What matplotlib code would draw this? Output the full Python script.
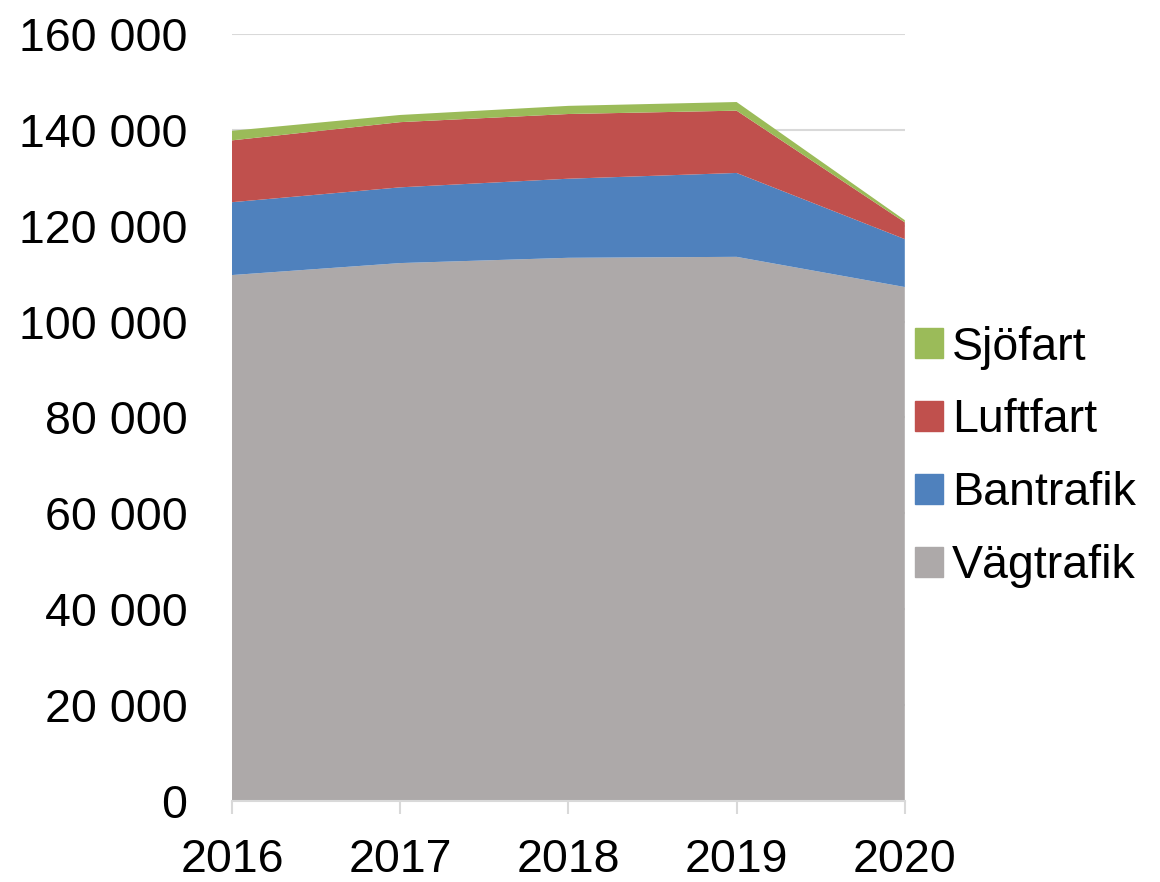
import matplotlib.pyplot as plt
from matplotlib.patches import Patch
from matplotlib.ticker import FuncFormatter

plt.rcParams['font.family'] = ['Liberation Sans', 'DejaVu Sans']

# Data
years = [2016, 2017, 2018, 2019, 2020]
vagtrafik = [109700, 112200, 113300, 113500, 107200]
bantrafik = [15200, 15800, 16500, 17500, 10000]
luftfart = [12900, 13600, 13500, 13000, 3500]
sjofart = [2000, 1500, 1700, 1800, 450]

labels = ['Vägtrafik', 'Bantrafik', 'Luftfart', 'Sjöfart']
colors = ['#ADA9A9', '#4F81BD', '#C0504D', '#9BBB59']

fig = plt.figure(figsize=(11.6, 8.82), dpi=100)
ax = fig.add_axes([0.2, 0.092, 0.58, 0.8695])

ax.stackplot(years, vagtrafik, bantrafik, luftfart, sjofart,
             colors=colors, labels=labels, linewidth=0, zorder=2)

ax.set_xlim(2016, 2020)
ax.set_ylim(0, 160000)
ax.set_xticks(years)
ax.set_yticks(range(0, 160001, 20000))
ax.yaxis.set_major_formatter(FuncFormatter(lambda v, p: f'{int(v):,}'.replace(',', ' ')))

ax.grid(axis='y', color='#D9D9D9', linewidth=1.5, zorder=0)
ax.set_axisbelow(True)
for s in ['top', 'right', 'left']:
    ax.spines[s].set_visible(False)
ax.spines['bottom'].set_color('#D9D9D9')
ax.spines['bottom'].set_linewidth(1.5)

ax.tick_params(axis='y', length=0, pad=32, labelsize=33.5)
ax.tick_params(axis='x', length=9, width=1.5, color='#D9D9D9', pad=18, labelsize=33.5)

handles = [Patch(color=c) for c in colors][::-1]
fig.legend(handles, labels[::-1], loc='center left', bbox_to_anchor=(0.7685, 0.482),
           frameon=False, fontsize=33.5, handlelength=0.6, handleheight=0.6,
           handletextpad=0.2, labelspacing=0.62, borderpad=0)

fig.savefig('out.png', dpi=100)
